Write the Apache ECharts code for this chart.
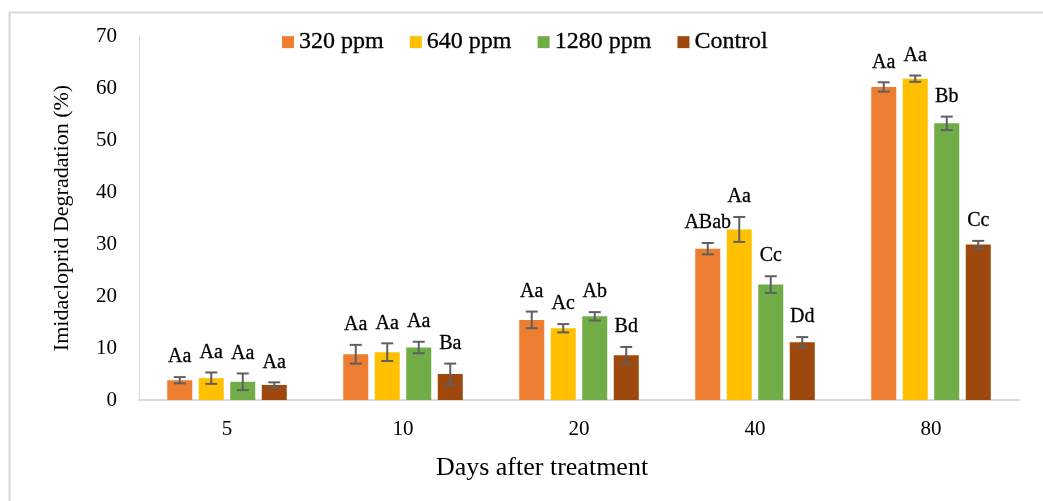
<!DOCTYPE html>
<html>
<head>
<meta charset="utf-8">
<script src="https://cdn.jsdelivr.net/npm/echarts@6/dist/echarts.min.js"></script>
<style>html,body{margin:0;padding:0;background:#fff;}#c{width:1043px;height:501px;}</style>
</head>
<body>
<div id="c"></div>
<script>
const categories = ['5', '10', '20', '40', '80'];
const seriesNames = ['320 ppm', '640 ppm', '1280 ppm', 'Control'];
const v320 = [3.8, 8.8, 15.4, 29.1, 60.2];
const v640 = [4.2, 9.2, 13.8, 32.8, 61.8];
const v1280 = [3.5, 10.1, 16.1, 22.2, 53.2];
const vControl = [2.9, 5.0, 8.6, 11.1, 29.9];
const e320 = [0.6, 1.8, 1.6, 1.1, 0.9];
const e640 = [1.1, 1.7, 0.8, 2.4, 0.6];
const e1280 = [1.6, 1.1, 0.8, 1.6, 1.3];
const eControl = [0.5, 2.0, 1.6, 1.0, 0.7];
const l320 = ['Aa', 'Aa', 'Aa', 'ABab', 'Aa'];
const l640 = ['Aa', 'Aa', 'Ac', 'Aa', 'Aa'];
const l1280 = ['Aa', 'Aa', 'Ab', 'Cc', 'Bb'];
const lControl = ['Aa', 'Ba', 'Bd', 'Dd', 'Cc'];
const yTicks = [0, 10, 20, 30, 40, 50, 60, 70];

const values = [v320, v640, v1280, vControl];
const errors = [e320, e640, e1280, eControl];
const letters = [l320, l640, l1280, lControl];
const colors = ['#ED7D31', '#FFC000', '#70AD47', '#9E480E'];
const FONT = '"Liberation Serif", "Times New Roman", serif';
const BAR_W = 25, BAR_GAP = 6.5;

const chart = echarts.init(document.getElementById('c'), null, {renderer: 'canvas'});
const series = [];
values.forEach((vals, i) => {
  series.push({
    name: seriesNames[i], type: 'bar', data: vals, barWidth: BAR_W, barGap: (BAR_GAP / BAR_W * 100) + '%',
    itemStyle: {color: colors[i]}, z: 2
  });
});
values.forEach((vals, i) => {
  series.push({
    type: 'custom', name: 'err' + i, z: 5, silent: true,
    data: vals.map((v, k) => [k, v, errors[i][k]]),
    encode: {x: 0, y: 1},
    renderItem: function (params, api) {
      const k = api.value(0), v = api.value(1), e = api.value(2);
      const c = api.coord([k, v]);
      const x = c[0] + (i - 1.5) * (BAR_W + BAR_GAP);
      const top = api.coord([k, v + e])[1];
      const bot = api.coord([k, v - e])[1];
      const cap = 6;
      const st = {stroke: '#5f5f5f', lineWidth: 2};
      return {type: 'group', children: [
        {type: 'line', shape: {x1: x, y1: top, x2: x, y2: bot}, style: st},
        {type: 'line', shape: {x1: x - cap, y1: top, x2: x + cap, y2: top}, style: st},
        {type: 'line', shape: {x1: x - cap, y1: bot, x2: x + cap, y2: bot}, style: st},
        {type: 'text', x: x, y: top - 10, style: {text: letters[i][k], font: '20px ' + FONT, fill: '#000', align: 'center', verticalAlign: 'bottom', stroke: '#000', lineWidth: 0.3}}
      ]};
    }
  });
});

chart.setOption({
  animation: false,
  backgroundColor: '#fff',
  graphic: [{type: 'rect', left: 7, top: 10, shape: {width: 1200, height: 600}, style: {fill: 'none', stroke: '#d9d9d9', lineWidth: 2}}],
  legend: {
    data: seriesNames, left: 277, top: 25, itemWidth: 12, itemHeight: 12, itemGap: 26,
    icon: 'rect', textStyle: {fontFamily: FONT, fontSize: 24, color: '#000', textBorderColor: '#000', textBorderWidth: 0.3}
  },
  grid: {left: 139, right: 24, top: 36, bottom: 101, containLabel: false},
  xAxis: {
    type: 'category', data: categories,
    axisLine: {show: true, lineStyle: {color: '#d9d9d9', width: 2}},
    axisTick: {show: false},
    axisLabel: {fontFamily: FONT, fontSize: 21, color: '#000', margin: 19},
    name: 'Days after treatment', nameLocation: 'middle', nameGap: 55,
    nameTextStyle: {fontFamily: FONT, fontSize: 26, color: '#000', padding: [0, 74, 0, 0]}
  },
  yAxis: {
    type: 'value', min: 0, max: 70, interval: 10,
    axisLine: {show: true, lineStyle: {color: '#d9d9d9', width: 1}},
    axisTick: {show: false}, splitLine: {show: false},
    axisLabel: {fontFamily: FONT, fontSize: 21, color: '#000', margin: 22,
      formatter: v => yTicks.includes(v) ? String(v) : ''},
    name: 'Imidacloprid Degradation (%)', nameLocation: 'middle', nameGap: 66,
    nameTextStyle: {fontFamily: FONT, fontSize: 22, color: '#000'}
  },
  series: series
});
</script>
</body>
</html>
